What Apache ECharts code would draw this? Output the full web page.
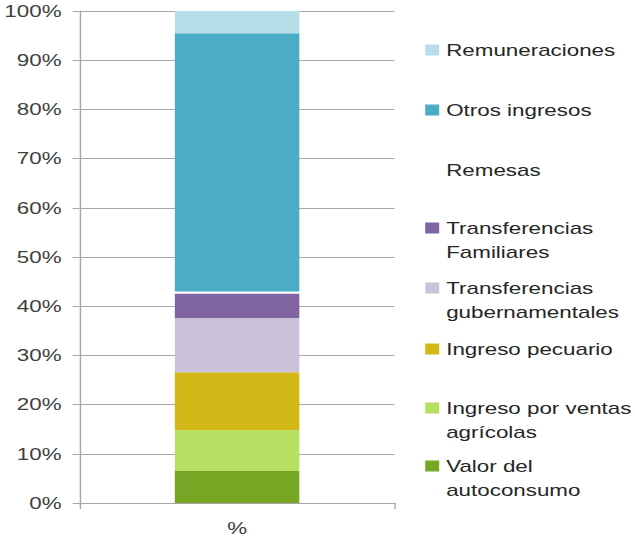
<!DOCTYPE html>
<html>
<head>
<meta charset="utf-8">
<script src="https://cdn.jsdelivr.net/npm/echarts@6/dist/echarts.min.js"></script>
<style>
  html, body { margin: 0; padding: 0; background: #fff; overflow: hidden; }
  /* the reference picture is stretched sideways, so the chart is too */
  #chart { width: 454px; height: 537px; transform: scaleX(1.3987); transform-origin: 0 0; }
</style>
</head>
<body>
<div id="chart"></div>
<script>
// data, stacked from the bottom up
const categories = ['%'];
const seriesNames = [
  'Valor del autoconsumo',
  'Ingreso por ventas agrícolas',
  'Ingreso pecuario',
  'Transferencias gubernamentales',
  'Transferencias Familiares',
  'Remesas',
  'Otros ingresos',
  'Remuneraciones',
];
const seriesValues = [6.5, 8.3, 11.8, 11.0, 5.0, 0.4, 52.5, 4.5];
const seriesColors = ['#76a623', '#b6e061', '#d3b817', '#ccc1da', '#8064a2', '#ffffff', '#4bacc6', '#b7dde8'];

// legend, top to bottom
const legendNames = seriesNames.slice().reverse();
const legendLabels = [
  'Remuneraciones',
  'Otros ingresos',
  'Remesas',
  'Transferencias\nFamiliares',
  'Transferencias\ngubernamentales',
  'Ingreso pecuario',
  'Ingreso por ventas\nagrícolas',
  'Valor del\nautoconsumo',
];
const legendRows = [50, 110, 170, 228, 288, 349, 408, 466];

const font = "'Liberation Sans', Arial, sans-serif";
const lineColor = '#a6a6a6';

const chart = echarts.init(document.getElementById('chart'), null, { renderer: 'svg' });

const legends = legendNames.map((name, i) => {
  const label = legendLabels[i];
  const twoLine = label.indexOf('\n') >= 0;
  return {
    data: [name],
    orient: 'vertical',
    left: 304,
    top: legendRows[i] - (twoLine ? 36 : 12),
    padding: 0,
    itemWidth: 10,
    itemHeight: 11,
    icon: 'rect',
    selectedMode: false,
    // blank first line keeps the icon level with the first line of text
    formatter: () => (twoLine ? ' \n' + label : label),
    textStyle: {
      fontFamily: font,
      fontSize: 16,
      color: '#262626',
      lineHeight: 24,
    },
  };
});

const option = {
  animation: false,
  legend: legends,
  grid: { left: 57, right: 172, top: 11, bottom: 34 },
  xAxis: {
    type: 'category',
    data: categories,
    axisLine: { lineStyle: { color: lineColor, width: 1 } },
    axisTick: { show: true, length: 6, lineStyle: { color: lineColor } },
    axisLabel: { margin: 17, fontFamily: font, fontSize: 16, color: '#404040' },
  },
  yAxis: {
    type: 'value',
    min: 0,
    max: 100,
    interval: 10,
    axisLine: { show: true, lineStyle: { color: lineColor, width: 1 } },
    axisTick: { show: true, length: 5, lineStyle: { color: lineColor } },
    axisLabel: { margin: 13, formatter: '{value}%', fontFamily: font, fontSize: 16, color: '#404040' },
    splitLine: { show: true, lineStyle: { color: lineColor, width: 1 } },
  },
  series: seriesNames.map((name, i) => ({
    name: name,
    type: 'bar',
    stack: 'total',
    barWidth: 89,
    data: [seriesValues[i]],
    itemStyle: { color: seriesColors[i] },
    emphasis: { disabled: true },
  })),
};

chart.setOption(option);
</script>
</body>
</html>
